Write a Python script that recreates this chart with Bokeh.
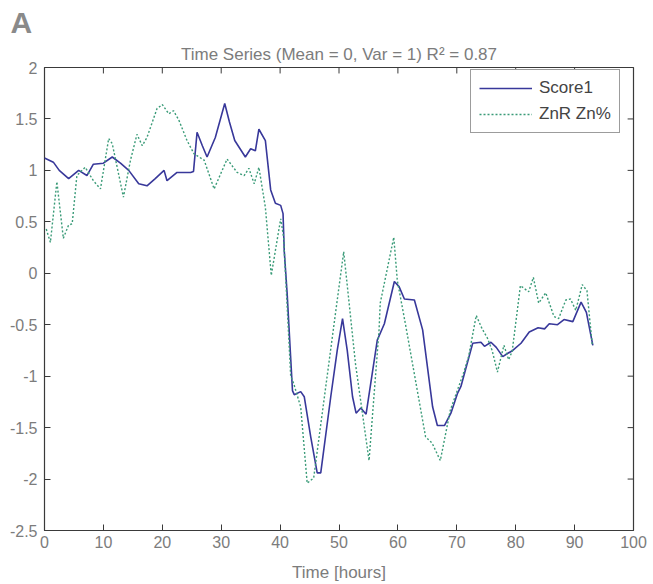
from bokeh.plotting import figure
from bokeh.models import FixedTicker, Title, Legend, LegendItem, Range1d
from bokeh.embed import file_html
from bokeh.resources import INLINE

# ---- data ----
score_t = [0.0, 1.5, 2.5, 4.1, 5.8, 7.2, 8.3, 10.0, 11.5, 12.9, 14.3, 16.0, 17.4, 18.8,
           20.3, 20.8, 22.5, 24.8, 25.3, 25.9, 26.8, 27.6, 29.0, 30.6, 31.4, 32.3, 34.1,
           35.0, 35.8, 36.4, 37.5, 38.4, 39.2, 40.1, 40.5, 40.7, 41.2, 42.1, 42.4, 43.5,
           44.1, 45.2, 46.3, 46.9, 48.6, 49.7, 50.6, 51.4, 52.3, 52.9, 53.7, 54.6, 56.5,
           57.7, 59.4, 60.2, 61.1, 62.8, 64.2, 65.9, 66.7, 67.9, 69.0, 70.1, 70.7, 72.7,
           74.1, 74.7, 75.8, 76.7, 77.8, 78.6, 79.5, 80.9, 82.3, 83.8, 84.9, 85.7, 87.1,
           88.2, 89.7, 91.1, 92.0, 93.1]
score_v = [1.12, 1.08, 1.00, 0.92, 1.00, 0.95, 1.06, 1.07, 1.13, 1.07, 1.00, 0.87, 0.85, 0.92,
           1.00, 0.90, 0.98, 0.98, 0.99, 1.37, 1.24, 1.13, 1.32, 1.65, 1.47, 1.29, 1.13,
           1.21, 1.19, 1.40, 1.29, 0.81, 0.68, 0.66, 0.58, 0.22, -0.20, -1.14, -1.18, -1.15,
           -1.20, -1.59, -1.94, -1.94, -1.20, -0.75, -0.44, -0.75, -1.20, -1.36, -1.31, -1.37, -0.65,
           -0.49, -0.08, -0.13, -0.25, -0.26, -0.55, -1.30, -1.48, -1.48, -1.36, -1.17, -1.10, -0.68,
           -0.67, -0.71, -0.67, -0.72, -0.81, -0.78, -0.75, -0.68, -0.57, -0.53, -0.54, -0.49, -0.50,
           -0.45, -0.47, -0.28, -0.38, -0.70]

zn_t = [0.3, 1.0, 2.1, 3.2, 4.1, 4.7, 5.5, 6.9, 8.3, 9.5, 10.9, 11.5, 13.4, 14.6, 15.7, 16.6,
        17.4, 19.1, 20.0, 21.1, 21.9, 22.8, 24.2, 25.4, 27.1, 28.8, 31.0, 32.7, 33.9, 34.7,
        35.6, 36.4, 37.5, 38.5, 40.1, 40.6, 41.8, 42.3, 43.5, 44.6, 45.7, 49.4, 50.8, 52.8,
        55.1, 56.8, 57.0, 59.3, 59.9, 61.3, 64.7, 65.8, 67.2, 68.9, 71.2, 72.0, 73.3, 74.3,
        75.2, 76.0, 76.9, 78.0, 78.8, 79.4, 80.8, 82.2, 83.0, 83.9, 85.1, 86.5, 87.3, 88.5,
        89.3, 90.2, 91.3, 92.1, 93.0]
zn_v = [0.43, 0.30, 0.89, 0.34, 0.47, 0.48, 0.95, 1.03, 0.90, 0.82, 1.31, 1.26, 0.74, 1.10, 1.35, 1.24,
        1.32, 1.60, 1.64, 1.55, 1.58, 1.49, 1.29, 1.16, 1.10, 0.82, 1.11, 0.98, 0.95, 1.02,
        0.87, 1.03, 0.64, -0.02, 0.53, 0.35, -1.00, -1.07, -1.30, -2.04, -1.99, -0.39, 0.21, -0.88,
        -1.82, -0.55, -0.29, 0.35, -0.07, -0.50, -1.59, -1.65, -1.82, -1.33, -0.96, -0.81, -0.41, -0.54,
        -0.63, -0.75, -0.96, -0.70, -0.84, -0.76, -0.12, -0.18, -0.04, -0.29, -0.19, -0.42, -0.44, -0.26,
        -0.25, -0.36, -0.11, -0.17, -0.70]

x_ticks = [0, 10, 20, 30, 40, 50, 60, 70, 80, 90, 100]
x_tick_labels = ["0", "10", "20", "30", "40", "50", "60", "70", "80", "90", "100"]
y_ticks = [-2.5, -2.0, -1.5, -1.0, -0.5, 0.0, 0.5, 1.0, 1.5, 2.0]
y_tick_labels = ["-2.5", "-2", "-1.5", "-1", "-0.5", "0", "0.5", "1", "1.5", "2"]

series_names = ["Score1", "ZnR Zn%"]
title_text = "Time Series (Mean = 0, Var = 1) R\u00b2 = 0.87"
panel_letter = "A"
x_label = "Time [hours]"

FONT = "Liberation Sans"
GRAY = "#7c7c7c"
FRAME = "#3a3a3a"
X_MIN, X_MAX, Y_MIN, Y_MAX = 0, 100, -2.5, 2
TICK_X = 1.0    # inward tick length for right-side ticks (data units)
TICK_Y = 0.058  # inward tick length for top ticks (data units)

p = figure(width=653, height=584, x_range=Range1d(X_MIN, X_MAX), y_range=Range1d(Y_MIN, Y_MAX),
           output_backend="svg", toolbar_location=None,
           min_border_left=44, min_border_right=20, min_border_top=67, min_border_bottom=54)
p.background_fill_color = "white"
p.border_fill_color = "white"
p.grid.visible = False
p.outline_line_color = FRAME
p.outline_line_width = 1.2

l1 = p.line(score_t, score_v, line_color="#38389a", line_width=1.6)
l2 = p.line(zn_t, zn_v, line_color="#3a9b78", line_width=1.4, line_dash="2 2")

# inward ticks on the top and right edges (MATLAB box style)
p.segment(x0=x_ticks, x1=x_ticks, y0=[Y_MAX] * len(x_ticks), y1=[Y_MAX - TICK_Y] * len(x_ticks),
          line_color=FRAME, line_width=1)
p.segment(x0=[X_MAX] * len(y_ticks), x1=[X_MAX - TICK_X] * len(y_ticks), y0=y_ticks, y1=y_ticks,
          line_color=FRAME, line_width=1)

def style_axis(ax):
    ax.axis_line_color = None
    ax.major_tick_in = 6
    ax.major_tick_out = 0
    ax.major_tick_line_color = FRAME
    ax.minor_tick_line_color = None
    ax.major_label_text_font = FONT
    ax.major_label_text_color = GRAY
    ax.major_label_text_font_size = "16px"

xa = p.xaxis[0]
xa.ticker = FixedTicker(ticks=x_ticks)
xa.major_label_overrides = {t: s for t, s in zip(x_ticks, x_tick_labels)}
style_axis(xa)
xa.major_label_standoff = 5
xa.axis_label = x_label
xa.axis_label_text_font = FONT
xa.axis_label_text_font_size = "17px"
xa.axis_label_text_font_style = "normal"
xa.axis_label_text_color = GRAY
xa.axis_label_standoff = 12

ya = p.yaxis[0]
ya.ticker = FixedTicker(ticks=y_ticks)
ya.major_label_overrides = {t: s for t, s in zip(y_ticks, y_tick_labels)}
style_axis(ya)
ya.major_label_standoff = 7

# outer title: panel letter
p.title.text = panel_letter
p.title.align = "left"
p.title.offset = -34
p.title.text_font = FONT
p.title.text_font_size = "30px"
p.title.text_font_style = "bold"
p.title.text_color = "#8a8a8a"
p.title.text_line_height = 1.0
p.title.standoff = 0

# inner title: chart title
p.add_layout(Title(text=title_text, align="center", text_font=FONT, text_font_size="17px",
                   text_font_style="normal", text_color=GRAY, text_line_height=1.0,
                   standoff=8), "above")

legend = Legend(items=[LegendItem(label=series_names[0], renderers=[l1]),
                       LegendItem(label=series_names[1], renderers=[l2])],
                location=(426, 397))
legend.label_text_font = FONT
legend.label_text_font_size = "17px"
legend.label_text_color = "#444444"
legend.border_line_color = FRAME
legend.border_line_width = 1
legend.background_fill_alpha = 1.0
legend.glyph_width = 53
legend.glyph_height = 20
legend.label_height = 20
legend.label_standoff = 7
legend.spacing = 6
legend.padding = 8
legend.margin = 0
p.add_layout(legend, "center")

open("out.html", "w").write(file_html(p, INLINE))
